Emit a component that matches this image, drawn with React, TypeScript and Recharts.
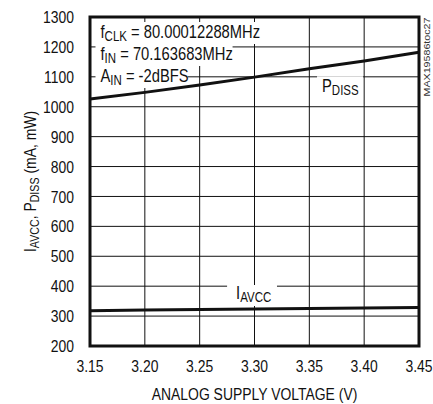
import React from 'react';
import { LineChart, Line, XAxis, YAxis, CartesianGrid, ReferenceArea } from 'recharts';

document.body.style.margin = '0';

const FONT = "'Liberation Sans', Arial, sans-serif";
const INK = '#111';
const NARROW = 0.82; // horizontal squeeze to mimic a condensed face

// supply voltage (V)
const voltage = [3.15, 3.2, 3.25, 3.3, 3.35, 3.4, 3.45];
// power dissipation (mW)
const pDiss = [1026, 1048, 1073, 1099, 1127, 1153, 1182];
// analog supply current (mA)
const iAvcc = [318, 320, 322, 324, 325, 327, 329];

const voltTicks = [3.15, 3.2, 3.25, 3.3, 3.35, 3.4, 3.45];
const yTicks = [200, 300, 400, 500, 600, 700, 800, 900, 1000, 1100, 1200, 1300];

const rows = voltage.map((v, i) => ({ v, pDiss: pDiss[i], iAvcc: iAvcc[i] }));

type Part = { t: string; sub?: boolean };

const Rich = ({ parts, size, subSize, shift }: { parts: Part[]; size: number; subSize: number; shift: number }) => {
  let prevSub = false;
  return (
    <>
      {parts.map((p, i) => {
        const dy = p.sub && !prevSub ? shift : !p.sub && prevSub ? -shift : 0;
        prevSub = !!p.sub;
        return (
          <tspan key={i} dy={dy} fontSize={p.sub ? subSize : size}>
            {p.t}
          </tspan>
        );
      })}
    </>
  );
};

// condensed text: squeezed around its anchor point
const Narrow = ({ x, y, rotate = 0, anchor = 'start', size = 17, dy, children }: any) => (
  <text
    transform={`translate(${x} ${y}) rotate(${rotate}) scale(${NARROW} 1)`}
    textAnchor={anchor}
    fontSize={size}
    dy={dy}
    fill={INK}
    fontFamily={FONT}
  >
    {children}
  </text>
);

const XTick = (p: any) => (
  <Narrow x={p.x} y={p.y} anchor="middle" dy="0.71em">
    {Number(p.payload.value).toFixed(2)}
  </Narrow>
);

const YTick = (p: any) => (
  <Narrow x={p.x} y={p.y} anchor="end" dy="0.355em">
    {p.payload.value}
  </Narrow>
);

// text boxes drawn in the plot (white background hides the grid)
const notes = [
  { x1: 3.155, x2: 3.307, y1: 1210, y2: 1283, dx: 5, dy: 16, parts: [{ t: 'f' }, { t: 'CLK', sub: true }, { t: ' = 80.00012288MHz' }] },
  { x1: 3.155, x2: 3.28, y1: 1136, y2: 1210, dx: 5, dy: 16, parts: [{ t: 'f' }, { t: 'IN', sub: true }, { t: ' = 70.163683MHz' }] },
  { x1: 3.155, x2: 3.239, y1: 1063, y2: 1136, dx: 5, dy: 16, parts: [{ t: 'A' }, { t: 'IN', sub: true }, { t: ' = -2dBFS' }] },
  { x1: 3.357, x2: 3.399, y1: 1022, y2: 1102, dx: 5, dy: 16, parts: [{ t: 'P' }, { t: 'DISS', sub: true }] },
  { x1: 3.275, x2: 3.3205, y1: 334, y2: 404, dx: 9, dy: 14, parts: [{ t: 'I' }, { t: 'AVCC', sub: true }] },
];

export default function App() {
  return (
    <div style={{ width: 433, height: 404, background: '#fff' }}>
      <LineChart width={433} height={404} data={rows} margin={{ top: 17, right: 14, left: 0, bottom: 0 }}>
        <CartesianGrid stroke={INK} strokeWidth={1} />
        <XAxis
          dataKey="v"
          type="number"
          domain={[3.15, 3.45]}
          ticks={voltTicks}
          interval={0}
          height={58}
          tickSize={0}
          tickMargin={14}
          axisLine={false}
          tickLine={false}
          tick={XTick}
          label={(p: any) => {
            const vb = p.viewBox;
            return (
              <Narrow x={vb.x + vb.width / 2} y={vb.y + 54} anchor="middle">
                ANALOG SUPPLY VOLTAGE (V)
              </Narrow>
            );
          }}
        />
        <YAxis
          type="number"
          domain={[200, 1300]}
          ticks={yTicks}
          interval={0}
          width={90}
          tickSize={0}
          tickMargin={16}
          axisLine={false}
          tickLine={false}
          tick={YTick}
          label={(p: any) => {
            const vb = p.viewBox;
            return (
              <Narrow x={vb.x + 36} y={vb.y + vb.height / 2} rotate={-90} anchor="middle">
                <Rich
                  size={17}
                  subSize={13}
                  shift={3}
                  parts={[{ t: 'I' }, { t: 'AVCC', sub: true }, { t: ', P' }, { t: 'DISS', sub: true }, { t: ' (mA, mW)' }]}
                />
              </Narrow>
            );
          }}
        />
        {notes.map((n, i) => (
          <ReferenceArea
            key={i}
            x1={n.x1}
            x2={n.x2}
            y1={n.y1}
            y2={n.y2}
            fill="#fff"
            fillOpacity={1}
            stroke="none"
            label={(p: any) => {
              const vb = p.viewBox;
              return (
                <Narrow x={vb.x + n.dx} y={vb.y + n.dy}>
                  <Rich size={18} subSize={14} shift={3} parts={n.parts} />
                </Narrow>
              );
            }}
          />
        ))}
        <Line type="linear" dataKey="pDiss" stroke={INK} strokeWidth={3} dot={false} isAnimationActive={false} />
        <Line type="linear" dataKey="iAvcc" stroke={INK} strokeWidth={3} dot={false} isAnimationActive={false} />
        <ReferenceArea
          x1={3.15}
          x2={3.45}
          y1={200}
          y2={1300}
          fill="none"
          fillOpacity={0}
          stroke={INK}
          strokeWidth={3}
          label={(p: any) => {
            const vb = p.viewBox;
            const cx = vb.x + vb.width + 11;
            const cy = vb.y + 40;
            return (
              <text
                x={cx}
                y={cy}
                transform={`rotate(-90 ${cx} ${cy})`}
                textAnchor="middle"
                fontSize={9}
                fill="#333"
                fontFamily={FONT}
                textLength={79}
                lengthAdjust="spacingAndGlyphs"
              >
                MAX19586toc27
              </text>
            );
          }}
        />
      </LineChart>
    </div>
  );
}
